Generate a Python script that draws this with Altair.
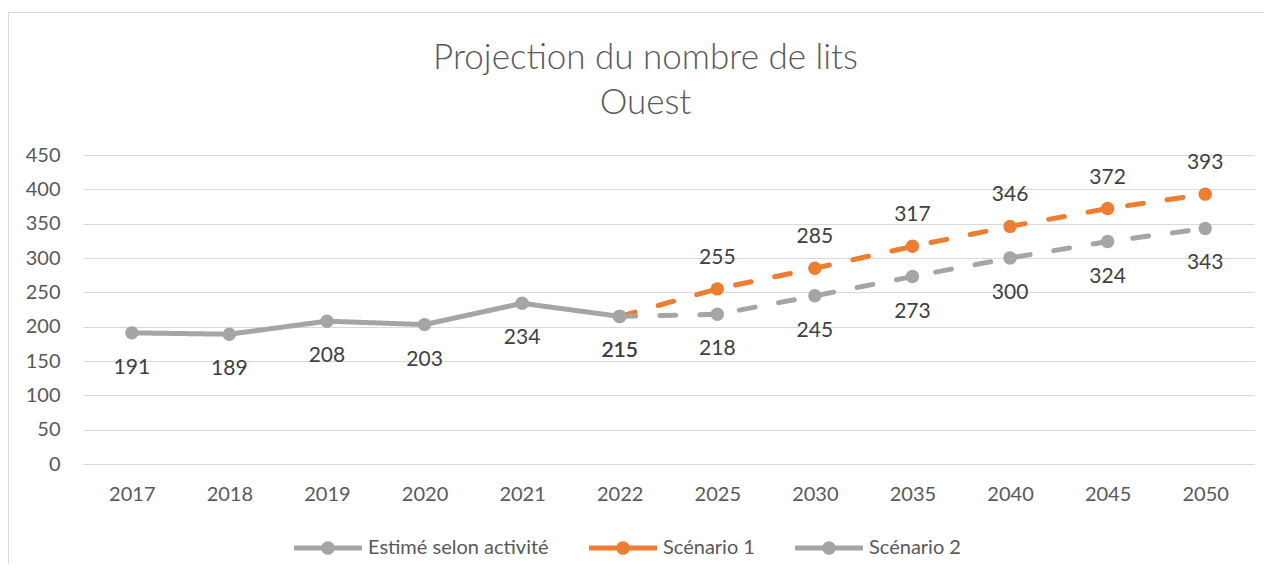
import altair as alt
import pandas as pd

years = ["2017", "2018", "2019", "2020", "2021", "2022", "2025", "2030", "2035", "2040", "2045", "2050"]
series_names = ["Estimé selon activité", "Scénario 1", "Scénario 2"]

estime_years = ["2017", "2018", "2019", "2020", "2021", "2022"]
estime_values = [191, 189, 208, 203, 234, 215]

scen_years = ["2022", "2025", "2030", "2035", "2040", "2045", "2050"]
scen1_values = [215, 255, 285, 317, 346, 372, 393]
scen2_values = [215, 218, 245, 273, 300, 324, 343]

rows = []
for y, v in zip(estime_years, estime_values):
    rows.append({"year": y, "series": series_names[0], "value": v, "labelled": True})
for y, v in zip(scen_years, scen1_values):
    rows.append({"year": y, "series": series_names[1], "value": v, "labelled": y != "2022"})
for y, v in zip(scen_years, scen2_values):
    rows.append({"year": y, "series": series_names[2], "value": v, "labelled": True})
df = pd.DataFrame(rows)

FONT = "Lato"
GRAY = "#A5A5A5"
ORANGE = "#ED7D31"
color_range = [GRAY, ORANGE, GRAY]
dash_range = [[1, 0], [16, 24], [16, 24]]

x_enc = alt.X(
    "year:O",
    sort=years,
    scale=alt.Scale(type="point", domain=years, padding=0.5),
    axis=alt.Axis(
        title=None, labelAngle=0, labelFont=FONT, labelFontSize=20, labelColor="#595959",
        labelPadding=20, ticks=False, domain=True, domainColor="#D9D9D9", domainWidth=1, grid=False,
    ),
)
y_enc = alt.Y(
    "value:Q",
    scale=alt.Scale(domain=[0, 450], nice=False),
    axis=alt.Axis(
        title=None, values=list(range(0, 451, 50)), labelFont=FONT, labelFontSize=20,
        labelColor="#595959", labelPadding=23, ticks=False, domain=False,
        grid=True, gridColor="#D9D9D9", gridWidth=1,
    ),
)

legend_path = (
    "M-1,-0.075 H-0.19 V0.075 H-1 Z "
    "M0.19,-0.075 H1 V0.075 H0.19 Z "
    "M0.2,0 A0.2,0.2 0 1,1 -0.2,0 A0.2,0.2 0 1,1 0.2,0 Z"
)

base = alt.Chart(df)

frame = alt.Chart(pd.DataFrame({"frame": [0]})).mark_rect(
    fillOpacity=0, stroke="#D9D9D9", strokeWidth=1
).encode(
    x=alt.value(-74.5), x2=alt.value(3000), y=alt.value(-142.5), y2=alt.value(3000)
)

line_layers = []
for name, col, dash in zip(series_names, color_range, dash_range):
    line_layers.append(
        base.transform_filter(alt.datum.series == name)
        .mark_line(strokeWidth=5, strokeCap="round", color=col, strokeDash=dash)
        .encode(x=x_enc, y=y_enc)
    )

points = base.mark_circle(size=180, opacity=1).encode(
    x=x_enc,
    y=y_enc,
    color=alt.Color(
        "series:N",
        scale=alt.Scale(domain=series_names, range=color_range),
        legend=alt.Legend(
            title=None, orient="none", legendX=211, legendY=359, direction="horizontal",
            symbolType=legend_path, symbolSize=4624, symbolStrokeWidth=0,
            labelFont=FONT, labelFontSize=20, labelColor="#595959", labelOffset=6,
            labelLimit=400, columnPadding=40, symbolOpacity=1,
        ),
    ),
)

labels_below = base.transform_filter(
    "datum.labelled && datum.series != 'Scénario 1'"
).mark_text(dy=35, font=FONT, fontSize=21, color="#404040", baseline="middle").encode(
    x=x_enc, y=y_enc, text="value:Q"
)

labels_above = base.transform_filter(
    "datum.labelled && datum.series == 'Scénario 1'"
).mark_text(dy=-31, font=FONT, fontSize=21, color="#404040", baseline="middle").encode(
    x=x_enc, y=y_enc, text="value:Q"
)

chart = alt.layer(frame, *line_layers, points, labels_below, labels_above).properties(
    width=1171,
    height=309,
    title=alt.TitleParams(
        text=["Projection du nombre de lits", "Ouest"],
        font=FONT, fontSize=35, fontWeight=300, color="#595959",
        lineHeight=45, anchor="middle", frame="group", dx=-23, offset=-109,
    ),
    padding={"left": 75, "top": 147, "right": 10, "bottom": 100},
    autosize=alt.AutoSizeParams(type="none"),
).configure_view(stroke=None)

chart.save("out.html", embed_options={"renderer": "svg", "actions": False})
